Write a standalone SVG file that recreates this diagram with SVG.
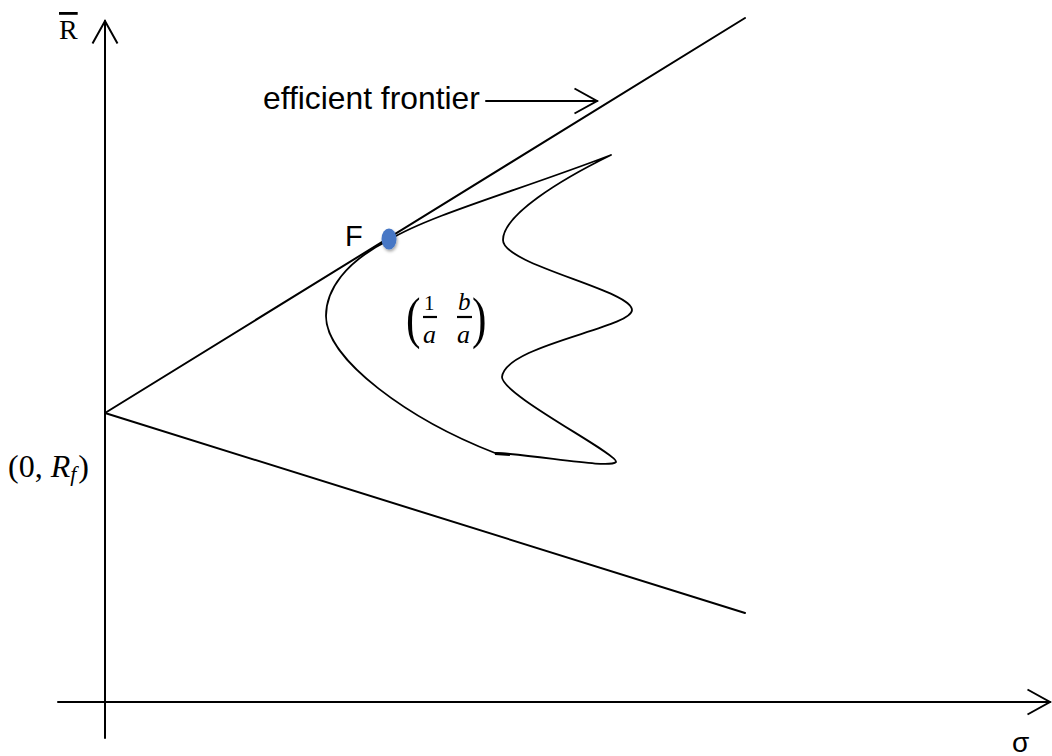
<svg xmlns="http://www.w3.org/2000/svg" width="1052" height="756" viewBox="0 0 1052 756">
<style>
.ln{fill:none;stroke:#000;stroke-width:2;stroke-linecap:round}
.cv{fill:none;stroke:#000;stroke-width:1.8;stroke-linejoin:round}
.sans{font-family:"Liberation Sans",Arial,sans-serif;fill:#000}
.serif{font-family:"Liberation Serif","Times New Roman",serif;fill:#000}
</style>
<defs>
<marker id="open" markerUnits="userSpaceOnUse" markerWidth="30" markerHeight="30" viewBox="-20 -12 22 24" refX="0" refY="0" orient="auto" overflow="visible">
<path d="M-18,-10 L0,0 L-18,10" fill="none" stroke="#000" stroke-width="1.6"/>
</marker>
<filter id="sh" x="-50%" y="-50%" width="200%" height="200%">
<feDropShadow dx="1" dy="2" stdDeviation="1.5" flood-color="#000" flood-opacity="0.35"/>
</filter>
</defs>
<rect width="1052" height="756" fill="#fff"/>
<g id="axes">
<line class="ln" x1="105" y1="738" x2="105" y2="21" marker-end="url(#open)"/>
<line class="ln" x1="58" y1="702" x2="1050" y2="702" marker-end="url(#open)"/>
</g>
<g id="connectors">
<line class="ln" x1="105" y1="413" x2="745" y2="18"/>
<line class="ln" x1="105" y1="413" x2="745" y2="613"/>
<line class="ln" x1="486" y1="101" x2="597" y2="101" stroke-width="1.5" marker-end="url(#open)"/>
</g>
<g id="feasible-set">
<path class="cv" d="M611,155 C520,190 430,215 389,240 C345,262 326,290 326,316 C326,360 410,420 495,453 L510,454 C560,459 610,468 616,462 C620,455 502,395 502,377 C505,345 632,328 632,310 C632,290 503,265 503,240 C503,215 560,180 611,155 Z"/>
<line x1="495" y1="453.5" x2="510" y2="454.5" stroke="#000" stroke-width="3"/>
</g>
<g id="point-F">
<ellipse cx="389" cy="239" rx="7.5" ry="10.5" fill="#4677c5" filter="url(#sh)"/>
<text class="sans" x="345" y="246" font-size="29">F</text>
</g>
<g id="labels">
<text class="serif" x="59" y="39" font-size="28" text-decoration="overline">R</text>
<text class="sans" x="1012" y="752" font-size="28">σ</text>
<text class="sans" x="263" y="109" font-size="31.8">efficient frontier</text>
<text class="serif" x="8" y="477" font-size="32">(0, <tspan font-style="italic">R</tspan><tspan font-style="italic" font-size="22" dy="4">f</tspan><tspan dy="-4" dx="2">)</tspan></text>
</g>
<g id="matrix">
<text class="serif" x="406" y="337" font-size="58" transform="translate(406 337) scale(0.75 1) translate(-406 -337)">(</text>
<text class="serif" x="424" y="310" font-size="21">1</text>
<line x1="423" y1="317" x2="437" y2="317" stroke="#000" stroke-width="2.2"/>
<text class="serif" x="423" y="343" font-size="26" font-style="italic">a</text>
<text class="serif" x="458" y="310" font-size="25" font-style="italic">b</text>
<line x1="457" y1="317" x2="472" y2="317" stroke="#000" stroke-width="2.2"/>
<text class="serif" x="457" y="343" font-size="26" font-style="italic">a</text>
<text class="serif" x="472" y="337" font-size="58" transform="translate(472 337) scale(0.75 1) translate(-472 -337)">)</text>
</g>
</svg>
